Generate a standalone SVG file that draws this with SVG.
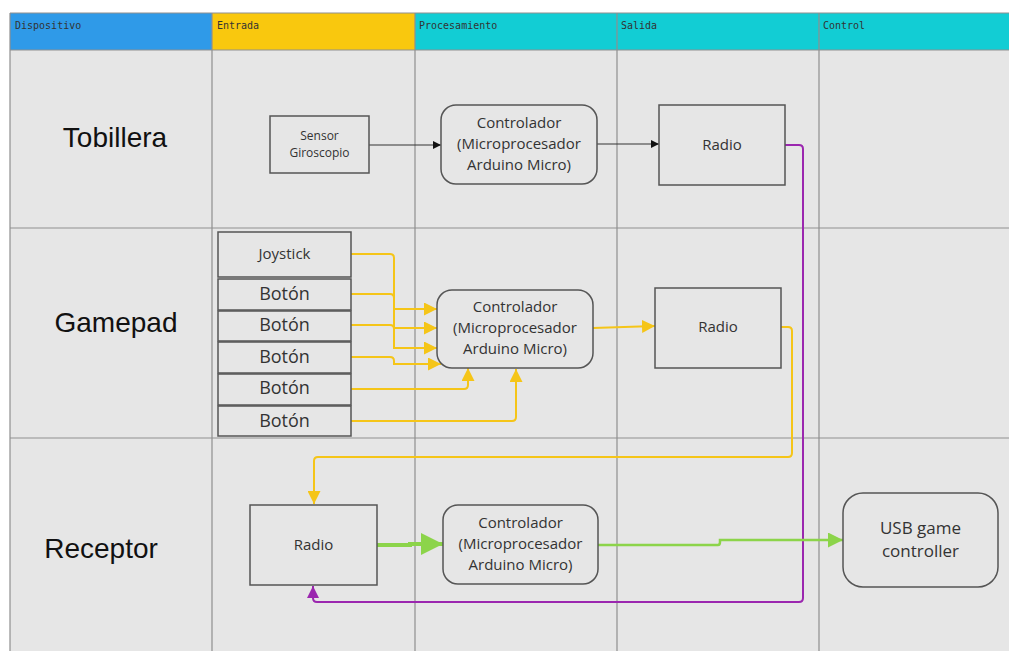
<svg xmlns="http://www.w3.org/2000/svg" width="1009" height="651" viewBox="0 0 1009 651">
<style>
.hdr{font-family:"DejaVu Sans Mono","Liberation Mono",monospace;font-size:10px;fill:#333}
.lane{font-family:"Liberation Sans",Arial,sans-serif;font-size:28px;fill:#111;text-anchor:middle}
.node{fill:#e6e6e6;stroke:#555;stroke-width:1.5}
.t{font-family:"Open Sans","Noto Sans",sans-serif;fill:#333;text-anchor:middle}
.grid{stroke:#8f8f8f;stroke-width:1.2;fill:none}
.y{stroke:#f5c518;stroke-width:2;fill:none}
</style>
<defs>
<marker id="ab" viewBox="0 0 10 10" refX="10" refY="5" markerWidth="8" markerHeight="8" markerUnits="userSpaceOnUse" orient="auto"><path d="M0,0L10,5L0,10z" fill="#111"/></marker>
<marker id="ay" viewBox="0 0 10 10" refX="10" refY="5" markerWidth="13" markerHeight="13" markerUnits="userSpaceOnUse" orient="auto"><path d="M0,0L10,5L0,10z" fill="#f5c518"/></marker>
<marker id="ap" viewBox="0 0 10 10" refX="10" refY="5" markerWidth="12" markerHeight="12" markerUnits="userSpaceOnUse" orient="auto"><path d="M0,0L10,5L0,10z" fill="#9b27af"/></marker>
<marker id="ag" viewBox="0 0 10 10" refX="10" refY="5" markerWidth="15" markerHeight="15" markerUnits="userSpaceOnUse" orient="auto"><path d="M0,0L10,5L0,10z" fill="#8cd44a"/></marker>
<marker id="agb" viewBox="0 0 10 10" refX="10" refY="5" markerWidth="22" markerHeight="22" markerUnits="userSpaceOnUse" orient="auto"><path d="M0,0L10,5L0,10z" fill="#8cd44a"/></marker>
</defs>
<rect x="0" y="0" width="1009" height="651" fill="#ffffff"/>
<g id="lanes">
<rect x="10" y="50" width="999" height="601" fill="#e6e6e6"/>
<rect x="10" y="13" width="202" height="37" fill="#2f9ae8"/>
<rect x="212" y="13" width="203" height="37" fill="#f9c80e"/>
<rect x="415" y="13" width="594" height="37" fill="#12cdd4"/>
<path class="grid" d="M10,13V651M212,13V651M415,13V651M617,13V651M819,13V651M10,13H1009M10,50H1009M10,228H1009M10,438H1009"/>
<text class="hdr" x="15" y="29">Dispositivo</text>
<text class="hdr" x="217" y="29">Entrada</text>
<text class="hdr" x="419" y="29">Procesamiento</text>
<text class="hdr" x="621" y="29">Salida</text>
<text class="hdr" x="823" y="29">Control</text>
<text class="lane" x="115" y="147">Tobillera</text>
<text class="lane" x="116" y="332">Gamepad</text>
<text class="lane" x="101" y="558">Receptor</text>
</g>
<g id="connectors">
<path d="M369,145H441" stroke="#333" stroke-width="1" fill="none" marker-end="url(#ab)"/>
<path d="M597,144H659" stroke="#333" stroke-width="1" fill="none" marker-end="url(#ab)"/>
<path d="M785,145H799Q803,145 803,149V598Q803,602 799,602H317Q313,602 313,598V586" stroke="#9b27af" stroke-width="2" fill="none" marker-end="url(#ap)"/>
<path class="y" d="M351,254H390Q394,254 394,258V309H437" marker-end="url(#ay)"/>
<path class="y" d="M351,294H390Q394,294 394,298V328H437" marker-end="url(#ay)"/>
<path class="y" d="M351,325H390Q394,325 394,329V348H437" marker-end="url(#ay)"/>
<path class="y" d="M351,357H390Q394,357 394,361V364H441" marker-end="url(#ay)"/>
<path class="y" d="M351,389H464Q468,389 468,385V368" marker-end="url(#ay)"/>
<path class="y" d="M351,421H512Q516,421 516,417V369" marker-end="url(#ay)"/>
<path class="y" d="M593,328L655,326" marker-end="url(#ay)"/>
<path class="y" d="M781,327H788Q792,327 792,331V453Q792,457 788,457H318Q314,457 314,461V504" marker-end="url(#ay)"/>
<path d="M377,545H410V544H443" stroke="#8cd44a" stroke-width="4" fill="none" marker-end="url(#agb)"/>
<path d="M598,545H718Q720,545 720,542V540H843" stroke="#8cd44a" stroke-width="2.5" fill="none" marker-end="url(#ag)"/>
</g>
<g id="sensor"><rect class="node" x="270" y="116" width="99" height="57"/><text class="t" font-size="12"><tspan x="319.5" y="140">Sensor</tspan><tspan x="319.5" y="157">Giroscopio</tspan></text></g>
<g id="ctrl1"><rect class="node" x="441" y="105" width="156" height="79" rx="15"/><text class="t" font-size="15"><tspan x="519" y="128">Controlador</tspan><tspan x="519" y="149">(Microprocesador</tspan><tspan x="519" y="170">Arduino Micro)</tspan></text></g>
<g id="radio1"><rect class="node" x="659" y="105" width="126" height="80"/><text class="t" font-size="15" x="722" y="150">Radio</text></g>
<g id="joystick"><rect class="node" x="218" y="232" width="133" height="45"/><text class="t" font-size="15" x="284.5" y="259">Joystick</text></g>
<g id="boton1"><rect class="node" x="218" y="279" width="133" height="31"/><text class="t" font-size="18" x="284.5" y="300">Botón</text></g>
<g id="boton2"><rect class="node" x="218" y="311" width="133" height="30"/><text class="t" font-size="18" x="284.5" y="331">Botón</text></g>
<g id="boton3"><rect class="node" x="218" y="342" width="133" height="31"/><text class="t" font-size="18" x="284.5" y="363">Botón</text></g>
<g id="boton4"><rect class="node" x="218" y="374" width="133" height="31"/><text class="t" font-size="18" x="284.5" y="394">Botón</text></g>
<g id="boton5"><rect class="node" x="218" y="406" width="133" height="30"/><text class="t" font-size="18" x="284.5" y="427">Botón</text></g>
<g id="ctrl2"><rect class="node" x="437" y="290" width="156" height="78" rx="15"/><text class="t" font-size="15"><tspan x="515" y="312">Controlador</tspan><tspan x="515" y="333">(Microprocesador</tspan><tspan x="515" y="354">Arduino Micro)</tspan></text></g>
<g id="radio2"><rect class="node" x="655" y="288" width="126" height="80"/><text class="t" font-size="15" x="718" y="332">Radio</text></g>
<g id="radio3"><rect class="node" x="250" y="505" width="127" height="80"/><text class="t" font-size="15" x="313.5" y="550">Radio</text></g>
<g id="ctrl3"><rect class="node" x="443" y="505" width="155" height="79" rx="15"/><text class="t" font-size="15"><tspan x="520.5" y="528">Controlador</tspan><tspan x="520.5" y="549">(Microprocesador</tspan><tspan x="520.5" y="570">Arduino Micro)</tspan></text></g>
<g id="usb"><rect class="node" x="843" y="493" width="155" height="94" rx="20"/><text class="t" font-size="17"><tspan x="920.5" y="534">USB game</tspan><tspan x="920.5" y="557">controller</tspan></text></g>
</svg>
